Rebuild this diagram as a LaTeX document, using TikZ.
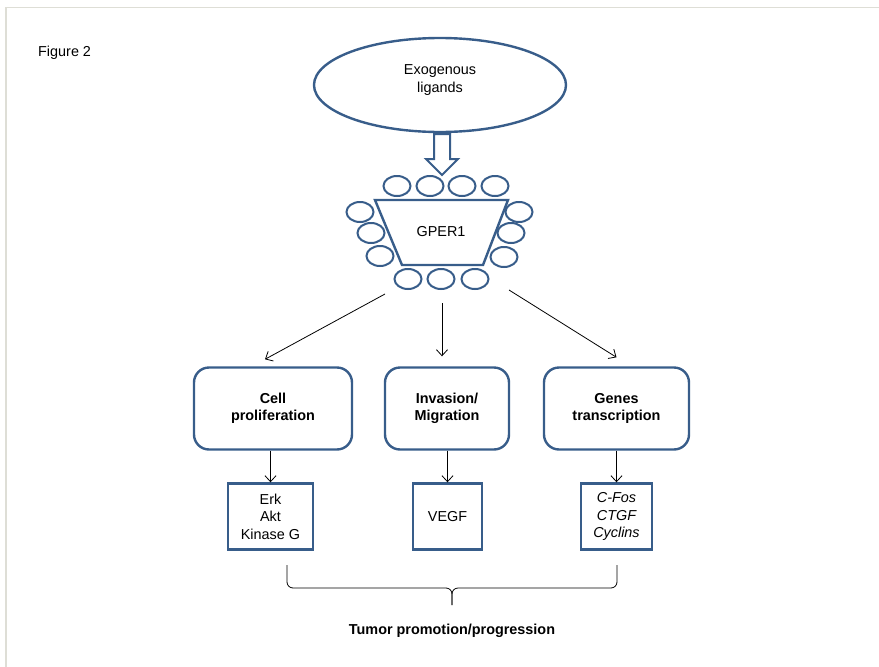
\documentclass[tikz,border=0pt]{standalone}
\usepackage{fontspec}
\setmainfont{Liberation Sans}
\usetikzlibrary{shapes.geometric,arrows.meta}
\definecolor{gblue}{RGB}{56,93,138}
\definecolor{pageline}{RGB}{222,222,214}

\begin{document}
\begin{tikzpicture}
	[x=1pt,y=-1pt, every node/.style={font=\fontsize{14.4}{17.5}\selectfont, align=center, inner sep=0pt},
	 bigoval/.style={draw=gblue, line width=2.4pt, ellipse, minimum width=252pt, minimum height=94pt},
	 ring/.style={draw=gblue, line width=2pt, ellipse, minimum width=27pt, minimum height=20pt},
	 effect/.style={draw=gblue, line width=2.4pt, rounded corners=15pt, minimum height=82pt},
	 target/.style={draw=gblue, line width=2.4pt, minimum height=66pt},
	 link/.style={-{Straight Barb[length=6pt,width=11pt]}, line width=0.8pt}]
	\useasboundingbox (0,0) rectangle (879,667);
	\draw[pageline, line width=1.5pt] (6,667) -- (6,7.5) -- (879,7.5);
	\node[anchor=west] (fig) at (38,53) {Figure 2};
	% ligands and receptor
	\node[bigoval] (lig) at (440,85) {};
	\node (ligtxt) at (440,80) {Exogenous\\ligands};
	\draw[gblue, line width=2pt, fill=white] (434,134) -- (450,134) -- (450,159) -- (458,159)
		-- (442,175) -- (426,159) -- (434,159) -- cycle;
	\draw[gblue, line width=2.4pt] (375,200) -- (508,200) -- (483,265) -- (402,265) -- cycle;
	\node (gper) at (441,232) {GPER1};
	\foreach \x/\y [count=\i] in {397/186,430/186,462/186,495/186,
			360/212,371/233,380/256,519/212,511/233,504/257,
			408/279,441/279,475/279}
		\node[ring] (r\i) at (\x,\y) {};
	\coordinate (gl) at (385,294);
	\coordinate (gm) at (442,303);
	\coordinate (gr) at (509,290);
	% effects
	\node[effect, minimum width=158pt] (cell) at (273,408.5) {\bfseries Cell\\\bfseries proliferation};
	\node[effect, minimum width=124pt] (inv) at (447,408.5) {\bfseries Invasion/\\\bfseries Migration};
	\node[effect, minimum width=145pt] (gene) at (616.5,408.5) {\bfseries Genes\\\bfseries transcription};
	\draw[link] (gl) -- ([xshift=-8pt,yshift=7pt]cell.north);
	\draw[link] (gm) -- ([xshift=-5pt,yshift=10pt]inv.north);
	\draw[link] (gr) -- ([yshift=9pt]gene.north);
	% targets
	\node[target, minimum width=85pt] (erk) at (270.5,516.5) {Erk\\Akt\\Kinase G};
	\node[target, minimum width=69pt] (vegf) at (447.5,516.5) {VEGF};
	\node[target, minimum width=71pt] (fos) at (616.5,516.5) {\itshape C-Fos\\\itshape CTGF\\\itshape Cyclins};
	\draw[link] (erk.north |- cell.south) -- (erk.north);
	\draw[link] (vegf.north |- inv.south) -- (vegf.north);
	\draw[link] (fos.north |- gene.south) -- (fos.north);
	% outcome
	\draw[line width=0.8pt, rounded corners=6pt] (287,565) -- (287,588) -- (452,588) -- (452,605);
	\draw[line width=0.8pt, rounded corners=6pt] (617,565) -- (617,588) -- (452,588) -- (452,605);
	\node[font=\fontsize{14.4}{17.5}\selectfont\bfseries] (tumor) at (452,631) {Tumor promotion/progression};
\end{tikzpicture}
\end{document}
